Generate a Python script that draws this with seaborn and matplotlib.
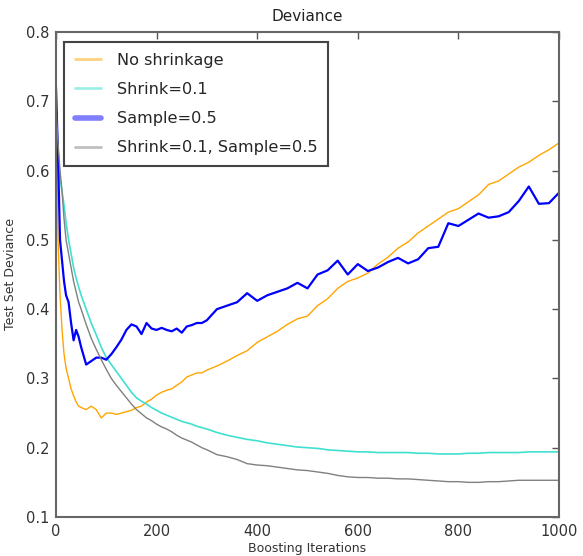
import numpy as np
import pandas as pd
import matplotlib
matplotlib.use("Agg")
import matplotlib.pyplot as plt
import seaborn as sns

# Boosting iteration grid (sampled positions where values were read)
iterations = [0, 4, 8, 12, 16, 20, 25, 30, 35, 40, 45, 50,
              60, 70, 80, 90, 100, 110, 120, 130, 140, 150, 160, 170, 180, 190, 200,
              210, 220, 230, 240, 250, 260, 270, 280, 290, 300,
              320, 340, 360, 380, 400, 420, 440, 460, 480, 500,
              520, 540, 560, 580, 600, 620, 640, 660, 680, 700,
              720, 740, 760, 780, 800, 820, 840, 860, 880, 900,
              920, 940, 960, 980, 1000]

no_shrinkage = [0.70, 0.50, 0.42, 0.37, 0.335, 0.315, 0.30, 0.285, 0.275, 0.266, 0.26, 0.258,
                0.255, 0.26, 0.255, 0.243, 0.25, 0.25, 0.248, 0.25, 0.252, 0.254, 0.258, 0.26, 0.266, 0.27, 0.276,
                0.28, 0.283, 0.285, 0.29, 0.295, 0.302, 0.305, 0.308, 0.308, 0.312,
                0.318, 0.325, 0.333, 0.34, 0.352, 0.36, 0.368, 0.378, 0.386, 0.39,
                0.405, 0.415, 0.43, 0.44, 0.445, 0.452, 0.465, 0.475, 0.488, 0.497,
                0.51, 0.52, 0.53, 0.54, 0.545, 0.555, 0.565, 0.58, 0.585, 0.595,
                0.605, 0.612, 0.622, 0.63, 0.64]

shrink_01 = [0.69, 0.63, 0.59, 0.57, 0.55, 0.525, 0.50, 0.48, 0.46, 0.445, 0.432, 0.42,
             0.40, 0.38, 0.363, 0.345, 0.33, 0.32, 0.31, 0.30, 0.29, 0.28, 0.272, 0.267, 0.263, 0.258, 0.254,
             0.25, 0.247, 0.244, 0.241, 0.238, 0.236, 0.234, 0.231, 0.229, 0.227,
             0.222, 0.218, 0.215, 0.212, 0.21, 0.207, 0.205, 0.203, 0.201, 0.2,
             0.199, 0.197, 0.196, 0.195, 0.194, 0.194, 0.193, 0.193, 0.193, 0.193,
             0.192, 0.192, 0.191, 0.191, 0.191, 0.192, 0.192, 0.193, 0.193, 0.193,
             0.193, 0.194, 0.194, 0.194, 0.194]

sample_05 = [0.72, 0.62, 0.50, 0.47, 0.44, 0.42, 0.41, 0.38, 0.355, 0.37, 0.36, 0.345,
             0.32, 0.325, 0.33, 0.33, 0.327, 0.335, 0.345, 0.356, 0.37, 0.378, 0.375, 0.364, 0.38, 0.372, 0.37,
             0.373, 0.37, 0.368, 0.372, 0.366, 0.375, 0.377, 0.38, 0.38, 0.384,
             0.40, 0.405, 0.41, 0.423, 0.412, 0.42, 0.425, 0.43, 0.438, 0.43,
             0.45, 0.456, 0.47, 0.45, 0.465, 0.455, 0.46, 0.468, 0.474, 0.466,
             0.472, 0.488, 0.49, 0.524, 0.52, 0.529, 0.538, 0.532, 0.534, 0.54,
             0.556, 0.577, 0.552, 0.553, 0.568]

shrink_sample = [0.69, 0.64, 0.60, 0.57, 0.53, 0.50, 0.48, 0.46, 0.44, 0.425, 0.41, 0.40,
                 0.378, 0.358, 0.342, 0.327, 0.313, 0.30, 0.29, 0.281, 0.272, 0.263, 0.255, 0.249, 0.243, 0.239, 0.234,
                 0.23, 0.227, 0.223, 0.218, 0.214, 0.211, 0.208, 0.204, 0.2, 0.197,
                 0.19, 0.187, 0.183, 0.177, 0.175, 0.174, 0.172, 0.17, 0.168, 0.167,
                 0.165, 0.163, 0.16, 0.158, 0.157, 0.157, 0.156, 0.156, 0.155, 0.155,
                 0.154, 0.153, 0.152, 0.151, 0.151, 0.150, 0.150, 0.151, 0.151, 0.152,
                 0.153, 0.153, 0.153, 0.153, 0.153]

labels = ["No shrinkage", "Shrink=0.1", "Sample=0.5", "Shrink=0.1, Sample=0.5"]
colors = ["orange", "turquoise", "blue", "gray"]
widths = [1.0, 1.2, 1.6, 1.0]
series = [no_shrinkage, shrink_01, sample_05, shrink_sample]

sns.set_style("white")
plt.rcParams['font.family'] = ['DejaVu Sans']

fig = plt.figure(figsize=(5.83, 5.56), dpi=100)
ax = fig.add_axes([56/583, 1 - 517/556, (559 - 56)/583, (517 - 32)/556])

for lab, col, lw, vals in zip(labels, colors, widths, series):
    df = pd.DataFrame({"iter": iterations, "dev": vals})
    sns.lineplot(data=df, x="iter", y="dev", color=col, lw=lw, label=lab, ax=ax)

ax.set_xlim(0, 1000)
ax.set_ylim(0.1, 0.8)
ax.set_xticks([0, 200, 400, 600, 800, 1000])
ax.set_yticks([0.1, 0.2, 0.3, 0.4, 0.5, 0.6, 0.7, 0.8])
ax.set_xticklabels(["0", "200", "400", "600", "800", "1000"])
ax.set_yticklabels(["0.1", "0.2", "0.3", "0.4", "0.5", "0.6", "0.7", "0.8"])
ax.tick_params(direction="in", length=5, width=1, top=True, right=True,
               labelsize=10.5, colors="#555555", labelcolor="#333333", pad=5)
for sp in ax.spines.values():
    sp.set_color("#666666")
    sp.set_linewidth(1.5)

ax.set_title("Deviance", fontsize=11, color="#222222", pad=8)
ax.set_xlabel("Boosting Iterations", fontsize=9, color="#333333", labelpad=2)
ax.set_ylabel("Test Set Deviance", fontsize=9, color="#333333", labelpad=6)

leg = ax.legend(loc="upper left", fontsize=11.6, frameon=True, fancybox=False,
                edgecolor="#444444", framealpha=1, labelspacing=0.88,
                handlelength=1.6, handletextpad=1.0, borderpad=0.68,
                borderaxespad=0.0,
                bbox_to_anchor=((64 - 56) / 503, (517 - 42) / 485))
leg.get_frame().set_linewidth(1.5)
for line in leg.get_lines():
    line.set_linewidth(2.0 if line.get_color() != "blue" else 4.0)
    line.set_alpha(0.5)

fig.savefig("out.png", dpi=100)
